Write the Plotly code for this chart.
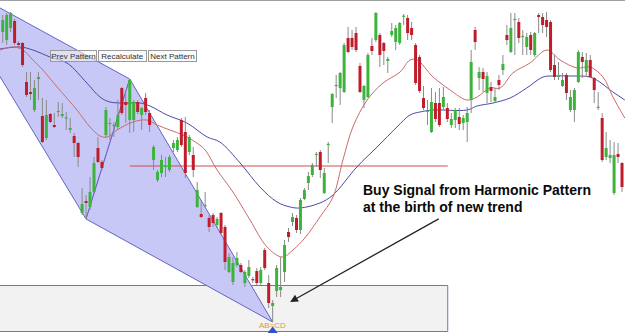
import plotly.graph_objects as go

# ---------------- data (arbitrary price units) ----------------
opens = [301,293,305,312,290,290,251,241,223,254,217,195,219,208,221,217,214.5,203,197,190,
         120,132,126,141,185,171,198,209,207,206,245,231,213,213,231,218,235,220,173,153,
         160,166,163,185,183,213,201,181,178,126,119,127,115,118,108,120,106,61,51,68,
         68,50,57,53.5,62,50,83,50,27,42,43,61,101,111,115,103,134,150,158,178,
         181,140,188,226,247,245,241,295,295,300,267,233,236,287,293,298,290,272,298,291,
         290,316.5,315,305,288,276,235,221.5,201,230,230,226,225,208,213,216,210,211,233,303,
         255,261,240,246,232,253,263,298,281,313,311,296,286,298,278,318,316,313,311,268,
         256.5,247,258,223,223,251,276,261,273,255,225.5,215,176,175,140,179,170]
highs = [318,320,321,314,292,291,261,261,253,261,235,233,220,220,231,230,221,215,200,191,
         145,138,156,176,196,173,226,215,211,233,246,240,254,233,233,226,240,223,188,163,
         178,176,178,193,196,215,216,198,186,151,133,141,118,120,116,121,108,80,76,81,
         70,63,73,56,65,66,85,58,33,68,76,93,105,120,118,135,145,161,170,181,
         183,165,191,240,258,261,290,306,303,306,270,248,280,295,321,300,291,276,310,308,
         311,319,318,311,290,278,247,233,245,241,245,246,230,220,225,225,218,226,283,306,
         266,265,261,251,245,258,278,308,320,320,315,303,300,301,301,320,320,321,313,278,
         271,260,260,243,245,283,281,280,278,256,241,220,201,193,191,190,171]
lows = [290,288,301,288,286,266,236,233,221,233,190,193,210,205,216,215,203,200,176,166,
        118,114,123,139,170,163,195,193,196,203,218,210,200,201,219,203,218,201,163,151,
        156,156,161,181,181,186,155,178,156,125,115,126,101,106,105,98,63,60,48,66,
        60,46,55,50,48,48,63,25,11,36,36,51,91,107,100,99,133,143,156,166,
        155,139,170,210,235,228,240,280,283,281,240,225,235,278,291,266,268,260,296,283,
        288,308,293,293,248,240,223,208,200,211,206,223,211,205,205,203,203,191,220,283,
        243,241,230,231,230,243,258,288,280,278,290,278,278,278,276,300,300,296,261,253,
        253,246,233,221,211,250,255,256,255,230,223,171,173,170,138,170,141]
closes = [313,318,320,290,288,268,238,239,245,256,191,218,211,206,222,219,215.5,205,190,176,
          129,130,141,170,171,165,223,210,208,218,220,228,253,231,221,225,221,208,186,161,
          173,167,176,190,193,188,160,196,163,143,116,128,106,110,114,100,71,76,70,75,
          61,61,66,53,50,63,65,30,30,65,46,88,96,116,103,133,143,157,168,179,
          163,160,189,239,248,260,288,281,286,283,241,247,278,282,320,278,282,274,302,305,
          310,317,300,298,250,242,225,222,231,214,208,236,214,214,223,209,215,220,271,291,
          261,254,257,242,236,248,269,293,305,314,295,297,296,283,300,316,308,306,263,256,
          257,253,240,236,243,281,271,273,256,243,226,173,185,178,178,176,146]

# moving averages read at key points: (candle index, value)
ma_fast_x = [-0.7,2.6,5.1,7.6,10.1,13.7,18.7,22,24.5,26.3,28.8,32.8,36.3,38.9,42.1,45.4,48.9,51,
             54,58,62.3,66.6,70.4,73.1,76.1,79.9,83.2,85.7,88.2,91.8,95.8,100.1,102.6,104.4,
             108.4,112.7,116.9,119.5,122.7,125.3,128.5,132.8,137.1,140.4,144.7,147.9,151.2,153.7,156.7]
ma_fast_y = [283,286,283,273,263,246,223,206,197,196,203,211,213,208,203,198,190,183,
             163,141,113,86,76,83,95,116,136,173,206,233,250,261,273,273,
             256,243,233,236,245,245,260,270,283,273,265,266,256,236,215]
ma_slow_x = [-0.7,4.4,7.6,11.9,16.2,21.2,24.5,27,31.3,34.6,37.1,41.4,46.4,51.5,54.7,59.8,64.8,69.1,
             72.4,74.9,79.9,83.2,89.2,94.3,99.3,102.6,105.1,108.4,117,119.5,123.5,127.8,132,136.1,
             138.6,142.9,147.9,150.4,153,156.7]
ma_slow_y = [284,286,283,276,270,250,236,231,230,230,227,218,210,196,191,170,146,131,
             126,125,130,138,166,186,206,218,221,223,223,227,230,235,245,256,
             257,257,256,251,243,233]

# harmonic pattern points (index, price)
pat_x = [-16.3, 21, 32, 68]
pat_y = [359, 114, 254, 11]
pattern_label = "AB=CD"

# potential reversal zone box and level
prz_x = [-2, 112.1]
prz_y = [1.5, 47.5]
level_x = [32, 112.1]
level_y = [167, 167]

note_lines = ["Buy Signal from Harmonic Pattern", "at the birth of new trend"]
note_x = 90.3
note_y = [153, 136]
arrow_head = (72.4, 31)
arrow_tail = (110.2, 115)
buttons = ["Prev Pattern", "Recalculate", "Next Pattern"]

# ---------------- figure ----------------
W, H = 625, 333
GREEN, RED, WICK = "#3cb43c", "#c01c2c", "#8a8a8a"
n = len(opens)
idx = list(range(n))

fig = go.Figure()

# PRZ box
fig.add_trace(go.Scatter(
    x=[prz_x[0], prz_x[1], prz_x[1], prz_x[0], prz_x[0]],
    y=[prz_y[0], prz_y[0], prz_y[1], prz_y[1], prz_y[0]],
    mode="lines", fill="toself", fillcolor="#f2f2f2",
    line=dict(color="#7474b4", width=1), hoverinfo="skip"))

# pattern triangles
for tri in ([0, 1, 2, 0], [1, 2, 3, 1]):
    fig.add_trace(go.Scatter(
        x=[pat_x[i] for i in tri], y=[pat_y[i] for i in tri],
        mode="lines", fill="toself", fillcolor="#c8c8f6",
        line=dict(color="#6464c4", width=1), hoverinfo="skip"))

# horizontal level
fig.add_trace(go.Scatter(x=level_x, y=level_y, mode="lines",
                         line=dict(color="#c8504a", width=1), hoverinfo="skip"))

# moving averages
fig.add_trace(go.Scatter(x=ma_slow_x, y=ma_slow_y, mode="lines", line_shape="spline",
                         line=dict(color="#4a4aa8", width=1), hoverinfo="skip"))
fig.add_trace(go.Scatter(x=ma_fast_x, y=ma_fast_y, mode="lines", line_shape="spline",
                         line=dict(color="#cc6a6a", width=1), hoverinfo="skip"))

# wicks
wx, wy = [], []
for i in idx:
    wx += [i, i, None]
    wy += [lows[i], highs[i], None]
fig.add_trace(go.Scatter(x=wx, y=wy, mode="lines",
                         line=dict(color=WICK, width=1), hoverinfo="skip"))

# bodies (thick vertical segments, min 1 unit tall so dojis show as a tick)
for up, col in ((True, GREEN), (False, RED)):
    bx_, by_ = [], []
    for i in idx:
        if (closes[i] >= opens[i]) != up:
            continue
        lo, hi = min(opens[i], closes[i]), max(opens[i], closes[i])
        if hi - lo < 1.2:
            mid = (hi + lo) / 2
            lo, hi = mid - 0.6, mid + 0.6
        bx_ += [i, i, None]
        by_ += [lo, hi, None]
    fig.add_trace(go.Scatter(x=bx_, y=by_, mode="lines",
                             line=dict(color=col, width=3), hoverinfo="skip"))

# D-point marker
fig.add_trace(go.Scatter(x=[pat_x[3]], y=[2], mode="markers",
                         marker=dict(symbol="triangle-up", size=9, color="#2f4fd0"),
                         hoverinfo="skip"))

x0 = -2.7 / 3.97
x1 = (W - 2.7) / 3.97

annotations = [
    dict(x=pat_x[3], y=8, text=pattern_label, showarrow=False,
         font=dict(family="Liberation Sans, Arial", size=8, color="#e0944a")),
    dict(x=arrow_head[0], y=arrow_head[1], ax=arrow_tail[0], ay=arrow_tail[1],
         xref="x", yref="y", axref="x", ayref="y", text="", showarrow=True,
         arrowhead=2, arrowsize=1.2, arrowwidth=1.3, arrowcolor="#222222"),
]
for t, yv in zip(note_lines, note_y):
    annotations.append(dict(
        x=note_x, y=yv, text="<b>" + t + "</b>", showarrow=False,
        xanchor="left", yanchor="top", align="left",
        font=dict(family="Liberation Sans, Arial", size=14, color="#0a0a0a")))

bx = [50, 98, 148]
bw = [47, 49, 49]
for t, xl, w in zip(buttons, bx, bw):
    annotations.append(dict(
        x=(xl + w / 2) / W, y=1 - 56 / H, xref="paper", yref="paper",
        xanchor="center", yanchor="middle",
        text=t, showarrow=False, width=w - 2, height=10,
        bgcolor="rgba(246,246,246,0.55)", bordercolor="#9a9a9a", borderwidth=1, borderpad=0,
        font=dict(family="Liberation Sans, Arial", size=8, color="#333333")))

fig.update_layout(
    width=W, height=H, margin=dict(l=0, r=0, t=0, b=0),
    paper_bgcolor="white", plot_bgcolor="white",
    showlegend=False,
    xaxis=dict(range=[x0, x1], visible=False, fixedrange=True),
    yaxis=dict(range=[0, H], visible=False, fixedrange=True),
    annotations=annotations,
    shapes=[dict(type="line", xref="paper", yref="paper", x0=0, x1=1, y0=1, y1=1,
                 line=dict(color="#a0a0a0", width=2))],
)

fig.write_html("out.html")
